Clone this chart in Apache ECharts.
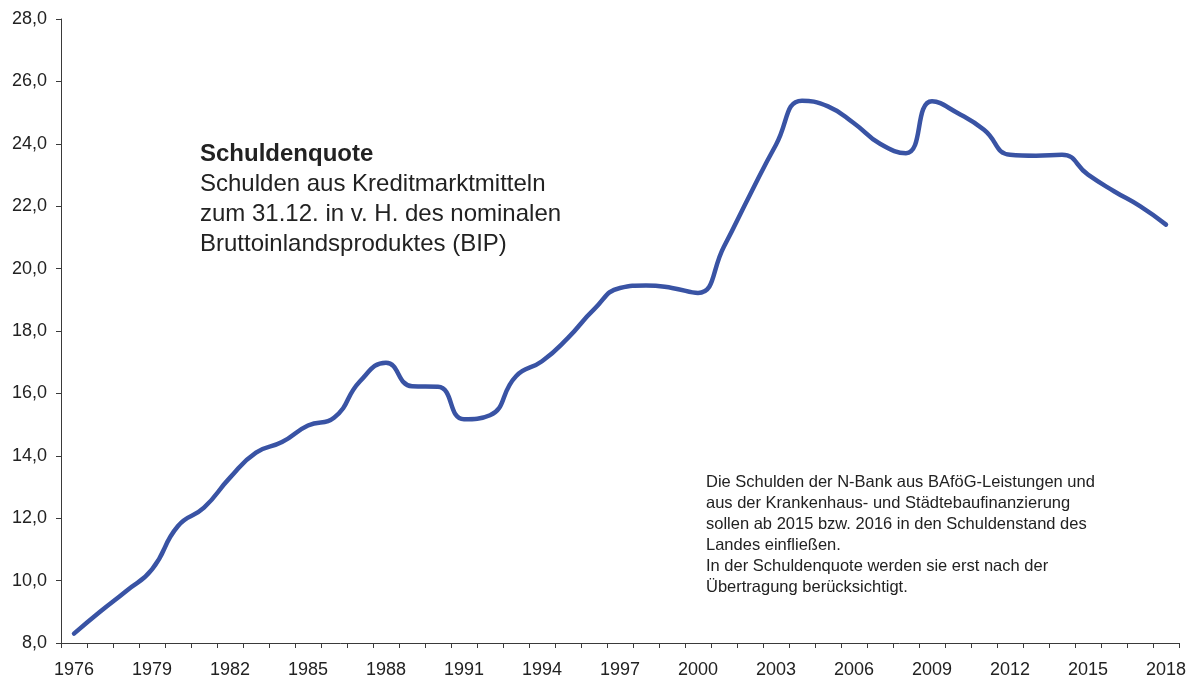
<!DOCTYPE html>
<html>
<head>
<meta charset="utf-8">
<script src="https://cdn.jsdelivr.net/npm/echarts@6/dist/echarts.min.js"></script>
<style>
  html, body { margin: 0; padding: 0; background: #fff; }
  #chart { width: 1192px; height: 679px; }
</style>
</head>
<body>
<div id="chart"></div>
<script>
var years = [
  "1976", "1977", "1978", "1979", "1980", "1981", "1982", "1983", "1984", "1985",
  "1986", "1987", "1988", "1989", "1990", "1991", "1992", "1993", "1994", "1995",
  "1996", "1997", "1998", "1999", "2000", "2001", "2002", "2003", "2004", "2005",
  "2006", "2007", "2008", "2009", "2010", "2011", "2012", "2013", "2014", "2015",
  "2016", "2017", "2018"
];
var quote = [
  8.3, 9.0, 9.66, 10.36, 11.75, 12.34, 13.3, 14.1, 14.44, 14.97,
  15.22, 16.39, 16.98, 16.23, 16.21, 15.17, 15.3, 16.55, 17.03, 17.78,
  18.69, 19.38, 19.46, 19.38, 19.22, 20.71, 22.37, 23.97, 25.38, 25.2,
  24.66, 24.0, 23.7, 25.36, 24.98, 24.45, 23.65, 23.62, 23.65, 23.01,
  22.48, 22.0, 21.41
];
var titleLines = [
  "Schulden aus Kreditmarktmitteln",
  "zum 31.12. in v. H. des nominalen",
  "Bruttoinlandsproduktes (BIP)"
];
var noteLines = [
  "Die Schulden der N-Bank aus BAföG-Leistungen und",
  "aus der Krankenhaus- und Städtebaufinanzierung",
  "sollen ab 2015 bzw. 2016 in den Schuldenstand des",
  "Landes einfließen.",
  "In der Schuldenquote werden sie erst nach der",
  "Übertragung berücksichtigt."
];

var fontFamily = "'Liberation Sans', Arial, sans-serif";
var chart = echarts.init(document.getElementById("chart"));

var option = {
  backgroundColor: "#ffffff",
  animation: false,
  grid: {
    left: 61,
    right: 13,
    top: 19,
    bottom: 35
  },
  xAxis: {
    type: "category",
    data: years,
    boundaryGap: true,
    axisLine: {
      lineStyle: { color: "#3a3a3a", width: 1 }
    },
    axisTick: {
      show: true,
      interval: 0,
      length: 5,
      lineStyle: { color: "#3a3a3a" }
    },
    axisLabel: {
      interval: 2,
      color: "#222222",
      fontSize: 18,
      fontFamily: fontFamily,
      margin: 18
    },
    splitLine: { show: false }
  },
  yAxis: {
    type: "value",
    min: 8,
    max: 28,
    interval: 2,
    axisLine: {
      show: true,
      lineStyle: { color: "#3a3a3a", width: 1 }
    },
    axisTick: {
      show: true,
      length: 5,
      lineStyle: { color: "#3a3a3a" }
    },
    axisLabel: {
      color: "#222222",
      fontSize: 18,
      fontFamily: fontFamily,
      margin: 14,
      formatter: function (v) {
        return v.toFixed(1).replace(".", ",");
      }
    },
    splitLine: { show: false }
  },
  series: [
    {
      name: "Schuldenquote",
      type: "line",
      data: quote,
      smooth: 0.5,
      symbol: "none",
      lineStyle: {
        color: "#3953a4",
        width: 4.5,
        cap: "round",
        join: "round"
      }
    }
  ],
  graphic: [
    {
      type: "text",
      left: 200,
      top: 139,
      style: {
        text: "Schuldenquote",
        font: "bold 24px " + fontFamily,
        lineHeight: 30,
        fill: "#222222"
      }
    },
    {
      type: "text",
      left: 200,
      top: 169,
      style: {
        text: titleLines.join("\n"),
        font: "24px " + fontFamily,
        lineHeight: 30,
        fill: "#222222"
      }
    },
    {
      type: "text",
      left: 706,
      top: 472,
      style: {
        text: noteLines.join("\n"),
        font: "16.5px " + fontFamily,
        lineHeight: 21,
        fill: "#222222"
      }
    }
  ]
};
chart.setOption(option);
</script>
</body>
</html>
